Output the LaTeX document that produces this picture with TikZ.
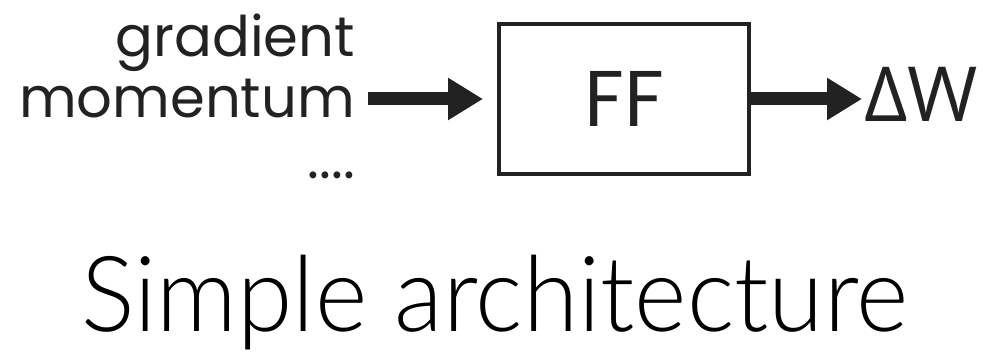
\documentclass[tikz,border=0pt]{standalone}
\usepackage{fontspec}
\usetikzlibrary{arrows.meta}
\newfontfamily\labelfont{Poppins}
\newfontfamily\deltafont{Open Sans}
\newfontfamily\titlefont{Lato Light}
\definecolor{ink}{RGB}{34,34,34}
\tikzset{
  inlabel/.style={inner sep=0pt, anchor=base east, text=ink,
    font=\labelfont\fontsize{56}{56}\selectfont},
  ffbox/.style={draw=ink, line width=4pt, minimum width=250pt, minimum height=150pt,
    inner sep=0pt, text=ink, font=\labelfont\fontsize{79}{79}\selectfont},
  fatarrow/.style={draw=ink, line width=13pt,
    -{Triangle[length=35pt,width=40pt]}},
}
\begin{document}
\begin{tikzpicture}[x=1pt,y=-1pt]
  \useasboundingbox (0,0) rectangle (983,352);
  % inputs of the network
  \node[inlabel] (grad) at (355,57) {gradient};
  \node[inlabel] (mom) at (355,118) {momentum};
  \node[inlabel] (more) at (355,179) {....};
  % feed-forward block
  \node[ffbox] (ff) at (624,99) {FF};
  % output
  \node[inner sep=0pt, anchor=base west, text=ink,
    font=\deltafont\fontsize{76}{76}\selectfont] (dw) at (864,122) {ΔW};
  % caption
  \node[inner sep=0pt, anchor=base, text=black, xscale=0.955, transform shape,
    font=\titlefont\fontsize{105}{105}\selectfont] (cap) at (495,332) {Simple architecture};
  % connectors
  \draw[fatarrow, shorten <=13pt, shorten >=14pt] (mom.east |- ff.west) -- (ff.west);
  \draw[fatarrow, shorten >=2pt] (ff.east) -- (dw.west |- ff.east);
\end{tikzpicture}
\end{document}
